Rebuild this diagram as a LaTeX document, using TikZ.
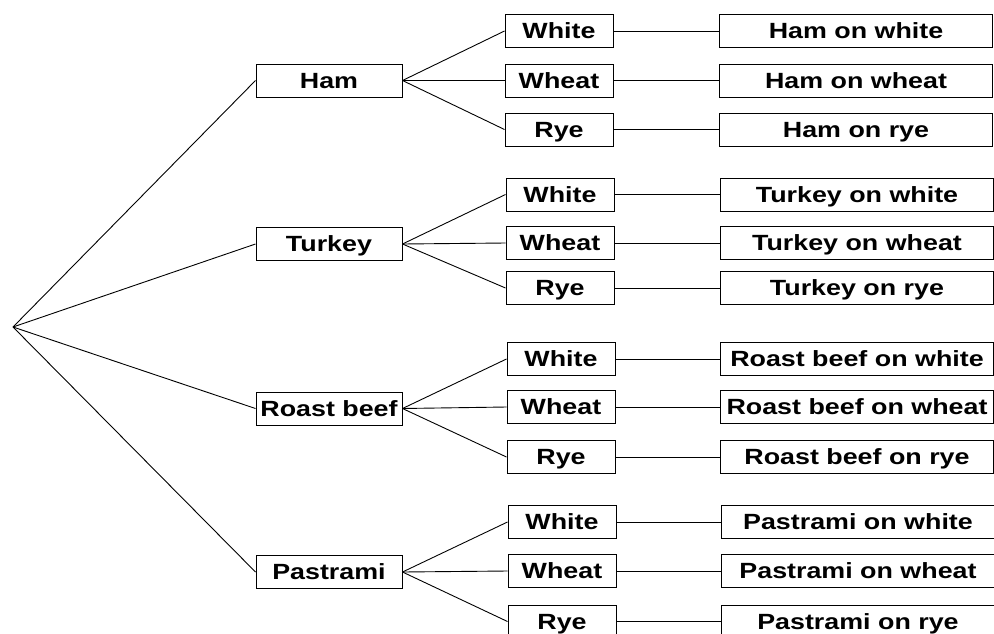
\documentclass[tikz,border=0pt]{standalone}
\usepackage{fontspec}
\newfontfamily\boxfont{Liberation Sans}[FakeStretch=1.22]
\begin{document}
\begin{tikzpicture}[x=1pt,y=-1pt]
\tikzset{
  box/.style={draw, line width=1pt, inner sep=0pt, minimum height=33pt,
    text height=15.8pt, text depth=0pt,
    font=\boxfont\bfseries\fontsize{22}{26}\selectfont},
  meat/.style={box, minimum width=146pt},
  bread/.style={box, minimum width=108pt},
  result/.style={box, minimum width=273pt},
  link/.style={line width=0.9pt}
}
\useasboundingbox (0,0) rectangle (994,633);
\coordinate (root) at (13,327);
% meats
\node[meat] (ham) at (329,80.5) {Ham};
\node[meat] (tur) at (329,244) {Turkey};
\node[meat] (rb)  at (329,408.5) {Roast beef};
\node[meat] (pas) at (329,572) {Pastrami};
% breads
\node[bread] (hamW) at (559,31) {White};
\node[bread] (hamH) at (559,80.5) {Wheat};
\node[bread] (hamR) at (559,129.5) {Rye};
\node[bread] (turW) at (560,194.5) {White};
\node[bread] (turH) at (560,243) {Wheat};
\node[bread] (turR) at (560,288) {Rye};
\node[bread] (rbW) at (561,359) {White};
\node[bread] (rbH) at (561,407) {Wheat};
\node[bread] (rbR) at (561,457) {Rye};
\node[bread] (pasW) at (562,522) {White};
\node[bread] (pasH) at (562,571) {Wheat};
\node[bread] (pasR) at (562,621.5) {Rye};
% results
\node[result] (hamWr) at (856,31) {Ham on white};
\node[result] (hamHr) at (856,80.5) {Ham on wheat};
\node[result] (hamRr) at (856,129.5) {Ham on rye};
\node[result] (turWr) at (857,194.5) {Turkey on white};
\node[result] (turHr) at (857,243) {Turkey on wheat};
\node[result] (turRr) at (857,288) {Turkey on rye};
\node[result] (rbWr) at (857,359) {Roast beef on white};
\node[result] (rbHr) at (857,407) {Roast beef on wheat};
\node[result] (rbRr) at (857,457) {Roast beef on rye};
\node[result] (pasWr) at (858,522) {Pastrami on white};
\node[result] (pasHr) at (858,571) {Pastrami on wheat};
\node[result] (pasRr) at (858,621.5) {Pastrami on rye};
% connectors
\foreach \m in {ham,tur,rb,pas}{
  \draw[link] (root) -- (\m.west);
  \foreach \b in {W,H,R}{
    \draw[link] (\m.east) -- (\m\b.west);
    \draw[link] (\m\b.east) -- (\m\b r.west);
  }
}
\end{tikzpicture}
\end{document}
